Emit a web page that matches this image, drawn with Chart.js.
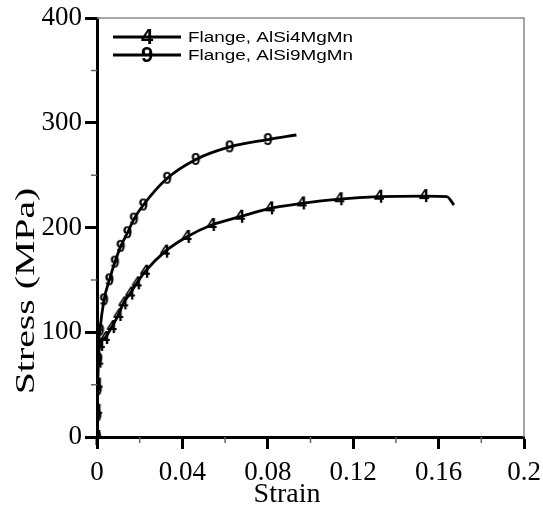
<!DOCTYPE html>
<html>
<head>
<meta charset="utf-8">
<script src="https://cdn.jsdelivr.net/npm/chart.js@4/dist/chart.umd.min.js"></script>
<style>
html,body{margin:0;padding:0;background:#fff;}
#wrap{width:543px;height:512px;}
</style>
</head>
<body>
<div id="wrap"><canvas id="c" width="543" height="512"></canvas></div>
<script>
// ---- data ----
const seriesNames = ['Flange, AlSi4MgMn', 'Flange, AlSi9MgMn'];
const seriesMarks = ['4', '9'];
const strain4 = [0, 0.0001, 0.0003, 0.0006, 0.0014, 0.0037, 0.0069, 0.0100, 0.0123, 0.0155, 0.0186, 0.0225, 0.0318, 0.0420, 0.0537, 0.0670, 0.0810, 0.0959, 0.1135, 0.1321, 0.1532, 0.1638, 0.1672];
const stress4 = [0, 25, 50, 72, 88, 94.5, 105, 116.5, 127.6, 137, 146.7, 157.8, 177, 191, 202.4, 210.3, 218.3, 223, 227, 229.4, 230, 229.4, 221.5];
const strain9 = [0, 0.0001, 0.0003, 0.0005, 0.0014, 0.0033, 0.0058, 0.0084, 0.0111, 0.0143, 0.0173, 0.0217, 0.0329, 0.0463, 0.0622, 0.0801, 0.0934];
const stress9 = [0, 20, 45, 75, 102, 131, 150, 167, 182, 195, 208, 221.5, 247, 265, 277, 284, 288.3];
const unmarked4 = 2; // last points drawn without a marker
const unmarked9 = 1;
const xTickValues = [0, 0.04, 0.08, 0.12, 0.16, 0.2];
const xTickLabels = ['0', '0.04', '0.08', '0.12', '0.16', '0.2'];
const xMinorTicks = [0.02, 0.06, 0.10, 0.14, 0.18];
const yTickValues = [0, 100, 200, 300, 400];
const yTickLabels = ['0', '100', '200', '300', '400'];
const yMinorTicks = [50, 150, 250, 350];
const xTitle = 'Strain';
const yTitle = 'Stress (MPa)';

function toXY(xs, ys) { return xs.map((x, i) => ({x: x, y: ys[i]})); }

function markCanvas(ch, size) {
  const c = document.createElement('canvas');
  c.width = size; c.height = size + 4;
  const g = c.getContext('2d');
  g.fillStyle = '#000';
  g.font = 'bold ' + size + 'px "Liberation Sans", Arial, sans-serif';
  g.textAlign = 'center';
  g.textBaseline = 'middle';
  g.fillText(ch, size / 2, (size + 4) / 2 + 1);
  return c;
}
const mark4 = markCanvas('4', 18);
const mark9 = markCanvas('9', 17);

const SERIF = '"Liberation Serif", "Times New Roman", serif';

const frameAndMinor = {
  id: 'frameAndMinor',
  afterDraw(chart) {
    const ctx = chart.ctx, a = chart.chartArea;
    const xs = chart.scales.x, ys = chart.scales.y;
    ctx.save();
    // frame (top and right)
    ctx.strokeStyle = '#8a8a8a';
    ctx.lineWidth = 1.5;
    ctx.beginPath();
    ctx.moveTo(a.left, a.top); ctx.lineTo(a.right, a.top); ctx.lineTo(a.right, a.bottom);
    ctx.stroke();
    // y-axis stub below the origin
    ctx.strokeStyle = '#000';
    ctx.lineWidth = 3;
    ctx.beginPath(); ctx.moveTo(a.left, a.bottom); ctx.lineTo(a.left, a.bottom + 8); ctx.stroke();
    // minor ticks
    ctx.strokeStyle = '#666';
    ctx.lineWidth = 1.5;
    ctx.beginPath();
    xMinorTicks.forEach(v => { const p = xs.getPixelForValue(v); ctx.moveTo(p, a.bottom); ctx.lineTo(p, a.bottom + 6); });
    yMinorTicks.forEach(v => { const p = ys.getPixelForValue(v); ctx.moveTo(a.left, p); ctx.lineTo(a.left - 6, p); });
    ctx.stroke();
    // axis titles
    ctx.fillStyle = '#000';
    ctx.textAlign = 'center'; ctx.textBaseline = 'middle';
    ctx.font = '28px ' + SERIF;
    ctx.fillText(xTitle, 287, 495);
    ctx.save();
    ctx.translate(27, 291);
    ctx.rotate(-Math.PI / 2);
    ctx.scale(1.42, 1);
    ctx.font = '28px ' + SERIF;
    ctx.fillText(yTitle, 0, 0);
    ctx.restore();
    // legend
    [0, 1].forEach(i => {
      const y = a.top + 19 + i * 18;
      const x0 = a.left + 16, x1 = a.left + 84;
      ctx.strokeStyle = '#000';
      ctx.lineWidth = 3;
      ctx.beginPath(); ctx.moveTo(x0, y); ctx.lineTo(x1, y); ctx.stroke();
      ctx.fillStyle = '#000';
      ctx.font = 'bold 22px "Liberation Sans", Arial, sans-serif';
      ctx.textAlign = 'center'; ctx.textBaseline = 'middle';
      ctx.fillText(seriesMarks[i], (x0 + x1) / 2, y + 1);
      ctx.save();
      ctx.translate(a.left + 91, y);
      ctx.scale(1.22, 1);
      ctx.font = '15.5px "Liberation Sans", Arial, sans-serif';
      ctx.textAlign = 'left';
      ctx.fillText(seriesNames[i], 0, 1);
      ctx.restore();
    });
    ctx.restore();
  }
};

new Chart(document.getElementById('c'), {
  type: 'scatter',
  data: {
    datasets: [
      { label: seriesNames[0], data: toXY(strain4, stress4), showLine: true, borderColor: '#000', borderWidth: 2.8,
        tension: 0.4, cubicInterpolationMode: 'monotone', pointStyle: mark4,
        pointRadius: c => (c.dataIndex >= strain4.length - unmarked4 ? 0 : 6) },
      { label: seriesNames[1], data: toXY(strain9, stress9), showLine: true, borderColor: '#000', borderWidth: 2.8,
        tension: 0.4, cubicInterpolationMode: 'monotone', pointStyle: mark9,
        pointRadius: c => (c.dataIndex >= strain9.length - unmarked9 ? 0 : 6) }
    ]
  },
  options: {
    responsive: false,
    animation: false,
    layout: { padding: { top: 18, right: 19, left: 0, bottom: 0 } },
    plugins: { legend: { display: false }, tooltip: { enabled: false } },
    scales: {
      x: {
        type: 'linear', min: 0, max: 0.2,
        afterFit(s) { s.height = 75; s.paddingRight = 0; s.paddingLeft = 0; },
        afterBuildTicks(s) { s.ticks = xTickValues.map(v => ({value: v})); },
        ticks: { color: '#000', padding: 8, maxRotation: 0, autoSkip: false,
          font: { family: SERIF, size: 27 },
          callback: (v, i) => xTickLabels[i] },
        grid: { drawOnChartArea: false, drawTicks: true, tickLength: 12, tickWidth: 3, tickColor: '#000' },
        border: { display: true, color: '#000', width: 3 },
        title: { display: false }
      },
      y: {
        type: 'linear', min: 0, max: 400,
        afterFit(s) { s.width = 97; s.paddingTop = 0; s.paddingBottom = 0; },
        afterBuildTicks(s) { s.ticks = yTickValues.map(v => ({value: v})); },
        ticks: { color: '#000', padding: 3, autoSkip: false,
          font: { family: SERIF, size: 27 },
          callback: (v, i) => yTickLabels[i] },
        grid: { drawOnChartArea: false, drawTicks: true, tickLength: 12, tickWidth: 3, tickColor: '#000' },
        border: { display: true, color: '#000', width: 3 },
        title: { display: false }
      }
    }
  },
  plugins: [frameAndMinor]
});
</script>
</body>
</html>
